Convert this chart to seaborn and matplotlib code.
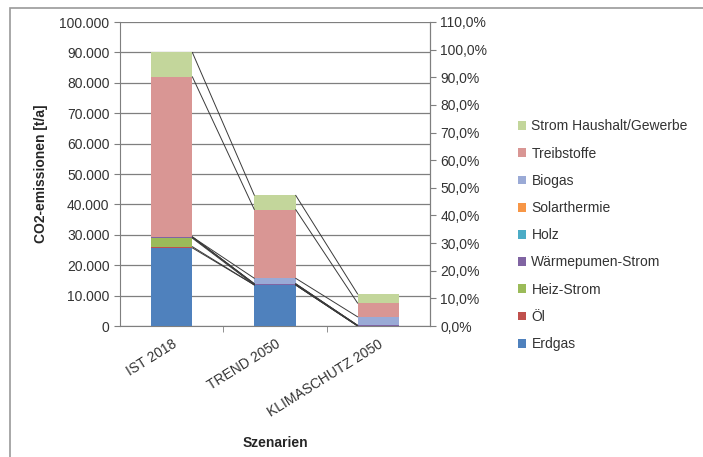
import numpy as np
import matplotlib
matplotlib.use('Agg')
import matplotlib.pyplot as plt
from matplotlib.ticker import FuncFormatter, FixedLocator
from matplotlib.patches import Rectangle
import seaborn as sns

sns.set_style('white')
plt.rcParams['font.family'] = ['Liberation Sans', 'DejaVu Sans']

# DATA (t/a CO2)
scenarios = ['IST 2018', 'TREND 2050', 'KLIMASCHUTZ 2050']
series = ['Erdgas', 'Öl', 'Heiz-Strom', 'Wärmepumen-Strom', 'Holz',
          'Solarthermie', 'Biogas', 'Treibstoffe', 'Strom Haushalt/Gewerbe']
erdgas = [25700, 13500, 0]
oel = [400, 0, 0]
heiz_strom = [2800, 0, 0]
waermepumpen = [300, 300, 200]
holz = [100, 100, 0]
solarthermie = [0, 0, 0]
biogas = [0, 1800, 2800]
treibstoffe = [52700, 22600, 4500]
strom_haushalt = [8000, 4700, 3000]
values = [erdgas, oel, heiz_strom, waermepumpen, holz,
          solarthermie, biogas, treibstoffe, strom_haushalt]
colors = ['#4F81BD', '#C0504D', '#9BBB59', '#8064A2', '#4BACC6',
          '#F79646', '#9AAAD6', '#D99694', '#C3D69B']

BAR_W = 0.4

fig = plt.figure(figsize=(7.03, 4.57), dpi=100)
ax = fig.add_axes([120/703, 1-326/457, 310/703, 304/457])

bottom = np.zeros(len(scenarios))
tops = []
for name, vals, c in zip(series, values, colors):
    sns.barplot(x=scenarios, y=vals, bottom=bottom, color=c, width=BAR_W,
                ax=ax, label=name, saturation=1, linewidth=0, zorder=3)
    bottom = bottom + np.array(vals)
    tops.append(bottom.copy())

# Excel-style series lines between stacked tops
for top in tops:
    for i in range(len(scenarios) - 1):
        ax.plot([i + BAR_W/2, i + 1 - BAR_W/2], [top[i], top[i + 1]],
                color='#3a3a3a', lw=0.7, zorder=4)

handles, labels = ax.get_legend_handles_labels()
if ax.get_legend() is not None:
    ax.get_legend().remove()

ax.set_ylim(0, 100000)
ax.set_xlim(-0.5, 2.5)
ax.yaxis.set_major_locator(FixedLocator(np.arange(0, 100001, 10000)))
ax.yaxis.set_major_formatter(FuncFormatter(lambda v, p: f'{v:,.0f}'.replace(',', '.')))
ax.grid(axis='y', color='#7f7f7f', lw=0.9, zorder=0)
ax.set_axisbelow(True)
ax.spines['top'].set_visible(False)
for s in ['left', 'bottom', 'right']:
    ax.spines[s].set_color('#7f7f7f')
ax.tick_params(axis='y', length=4, color='#7f7f7f', labelsize=10, labelcolor='#333333', direction='out', left=True)
ax.set_xticks(range(len(scenarios)))
ax.set_xticklabels(scenarios, rotation=32, ha='right', rotation_mode='anchor',
                   fontsize=10, color='#333333')
ax.tick_params(axis='x', length=0, pad=8)
ax.set_xticks([0.5, 1.5], minor=True)
ax.tick_params(axis='x', which='minor', length=4, color='#7f7f7f', bottom=True)
ax.set_ylabel('CO2-emissionen [t/a]', fontsize=10, fontweight='bold', labelpad=8)
ax.set_xlabel('Szenarien', fontsize=10, fontweight='bold', labelpad=12)

ax2 = ax.twinx()
ax2.set_ylim(0, 1.1)
ax2.yaxis.set_major_locator(FixedLocator(np.arange(0, 1.1001, 0.1)))
ax2.yaxis.set_major_formatter(FuncFormatter(lambda v, p: f'{v*100:.1f}%'.replace('.', ',')))
ax2.tick_params(axis='y', length=4, color='#7f7f7f', labelsize=10, labelcolor='#333333', direction='out', right=True)
for s in ['top', 'left', 'bottom']:
    ax2.spines[s].set_visible(False)
ax2.spines['right'].set_color('#7f7f7f')

fig.legend(handles[::-1], labels[::-1], loc='upper left',
           bbox_to_anchor=(505/703, 1-107/457), frameon=False, fontsize=10,
           handlelength=0.6, handleheight=0.6, handletextpad=0.4,
           labelspacing=0.95, labelcolor='#333333')

fig.patches.append(Rectangle((10/703, -0.05), 1.2, 1.05 - 8/457, transform=fig.transFigure,
                             fill=False, edgecolor='#9a9a9a', lw=1.2))

fig.savefig('out.png', dpi=100)
